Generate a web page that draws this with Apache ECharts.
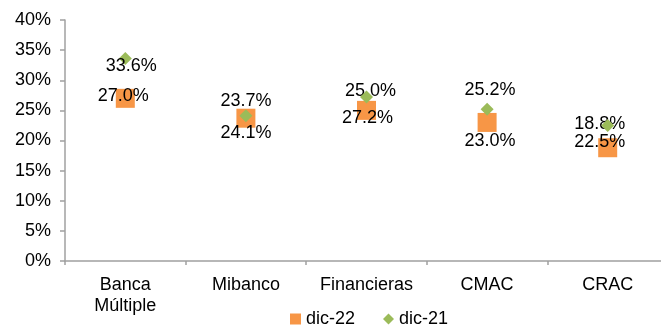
<!DOCTYPE html>
<html>
<head>
<meta charset="utf-8">
<script src="https://cdn.jsdelivr.net/npm/echarts@6/dist/echarts.min.js"></script>
<style>
  html, body { margin: 0; padding: 0; background: #fff; }
  #chart { width: 661px; height: 327px; }
</style>
</head>
<body>
<div id="chart"></div>
<script>
// categorias y valores (%)
var categories = ['Banca\nMúltiple', 'Mibanco', 'Financieras', 'CMAC', 'CRAC'];
var dic22 = [27.0, 23.7, 25.0, 23.0, 18.8];
var dic21 = [33.6, 24.1, 27.2, 25.2, 22.5];

// desplazamiento de etiquetas (px), como en el original
var offsets22 = [[-2, -2], [0, -17], [4, -19], [3, 19], [-8, -24]];
var offsets21 = [[6, 7], [0, 17], [1, 21], [3, -19], [-8, 17]];

var txt = { fontFamily: 'Liberation Sans, Arial, sans-serif', fontSize: 18, color: '#000' };

function withLabels(values, offs) {
  return values.map(function (v, i) {
    return { value: v, label: { offset: offs[i] } };
  });
}

var myChart = echarts.init(document.getElementById('chart'));
var option = {
  animation: false,
  textStyle: txt,
  grid: { left: 65, top: 20, right: -7, bottom: 66, containLabel: false, outerBoundsMode: 'none' },
  legend: {
    left: 290,
    top: 310,
    padding: 0,
    itemWidth: 11,
    itemHeight: 11,
    itemGap: 28,
    textStyle: txt,
    data: [
      { name: 'dic-22', icon: 'rect' },
      { name: 'dic-21', icon: 'diamond' }
    ]
  },
  xAxis: {
    type: 'category',
    data: categories,
    boundaryGap: true,
    axisLine: { lineStyle: { color: '#a0a0a0', width: 1.5 } },
    axisTick: { show: true, length: 4, lineStyle: { color: '#a0a0a0', width: 1.5 } },
    axisLabel: { interval: 0, margin: 14, lineHeight: 21, fontSize: 18, color: '#000', fontFamily: txt.fontFamily }
  },
  yAxis: {
    type: 'value',
    min: 0,
    max: 40,
    interval: 5,
    axisLine: { show: true, lineStyle: { color: '#a0a0a0', width: 1.5 } },
    axisTick: { show: true, length: 5, lineStyle: { color: '#a0a0a0', width: 1.5 } },
    splitLine: { show: false },
    axisLabel: { formatter: '{value}%', margin: 14, fontSize: 18, color: '#000', fontFamily: txt.fontFamily }
  },
  series: [
    {
      name: 'dic-22',
      type: 'scatter',
      symbol: 'rect',
      symbolSize: 19,
      itemStyle: { color: '#F79646', opacity: 1 },
      data: withLabels(dic22, offsets22),
      label: {
        show: true,
        position: 'inside',
        formatter: function (p) { return p.value.toFixed(1) + '%'; },
        fontSize: 18, color: '#000', fontFamily: txt.fontFamily
      },
      z: 2
    },
    {
      name: 'dic-21',
      type: 'scatter',
      symbol: 'diamond',
      symbolSize: 13,
      itemStyle: { color: '#9BBB59', opacity: 1 },
      data: withLabels(dic21, offsets21),
      label: {
        show: true,
        position: 'inside',
        formatter: function (p) { return p.value.toFixed(1) + '%'; },
        fontSize: 18, color: '#000', fontFamily: txt.fontFamily
      },
      z: 3
    }
  ]
};
myChart.setOption(option, true);
</script>
</body>
</html>
